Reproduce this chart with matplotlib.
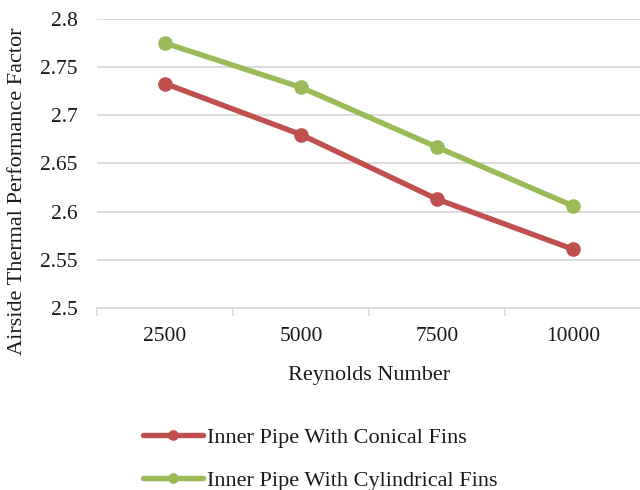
import matplotlib
matplotlib.use("Agg")
import matplotlib.pyplot as plt
from matplotlib.ticker import FixedLocator

categories = ["2500", "5000", "7500", "10000"]
conical = [2.733, 2.680, 2.613, 2.561]
cylindrical = [2.775, 2.729, 2.667, 2.606]
series_names = ["Inner Pipe With Conical Fins", "Inner Pipe With Cylindrical Fins"]
y_ticks = [2.5, 2.55, 2.6, 2.65, 2.7, 2.75, 2.8]

plt.rcParams['font.family'] = ['Liberation Serif', 'DejaVu Serif']

W, H = 640, 490
fig = plt.figure(figsize=(6.4, 4.9), dpi=100)
ax = fig.add_axes([97 / W, 1 - 308 / H, (641 - 97) / W, (308 - 19) / H])

x = list(range(len(categories)))
red = "#C0504D"
green = "#9BBB59"
ax.plot(x, conical, color=red, lw=3.9, marker="o", ms=9.5, label=series_names[0],
        solid_capstyle="round", zorder=3)
ax.plot(x, cylindrical, color=green, lw=3.9, marker="o", ms=9.5, label=series_names[1],
        solid_capstyle="round", zorder=3)

ax.set_xlim(-0.5, len(categories) - 0.5)
ax.set_ylim(2.5, 2.8)
ax.set_yticks(y_ticks)
ax.set_yticklabels([f"{v:g}" for v in y_ticks])
ax.set_xticks(x)
ax.set_xticklabels(categories)
ax.xaxis.set_minor_locator(FixedLocator([i - 0.5 for i in range(len(categories) + 1)]))

ax.tick_params(axis="x", which="major", length=0, pad=14, labelsize=15.5, colors="#1a1a1a")
ax.tick_params(axis="x", which="minor", length=6, width=1.2, color="#D9D9D9", direction="out")
ax.tick_params(axis="y", length=0, pad=14, labelsize=15.5, colors="#1a1a1a")

ax.grid(axis="y", color="#D9D9D9", lw=1.3)
ax.set_axisbelow(True)
for s in ["left", "right", "top"]:
    ax.spines[s].set_visible(False)
ax.spines["bottom"].set_color("#D9D9D9")
ax.spines["bottom"].set_linewidth(1.3)

ax.set_xlabel("Reynolds Number", fontsize=16, color="#1a1a1a", labelpad=14)
fig.text(18 / W, 1 - 191.5 / H, "Airside Thermal Performance Factor", rotation=90,
         ha="center", va="center", fontsize=16, color="#1a1a1a")

leg = fig.legend(loc="upper left", bbox_to_anchor=(143 / W, 1 - 427 / H),
                 frameon=False, fontsize=16, handlelength=2.7, handletextpad=0.2,
                 labelspacing=1.02, borderaxespad=0, borderpad=0, markerscale=0.7)
for t in leg.get_texts():
    t.set_color("#1a1a1a")

fig.savefig("out.png", dpi=100)
